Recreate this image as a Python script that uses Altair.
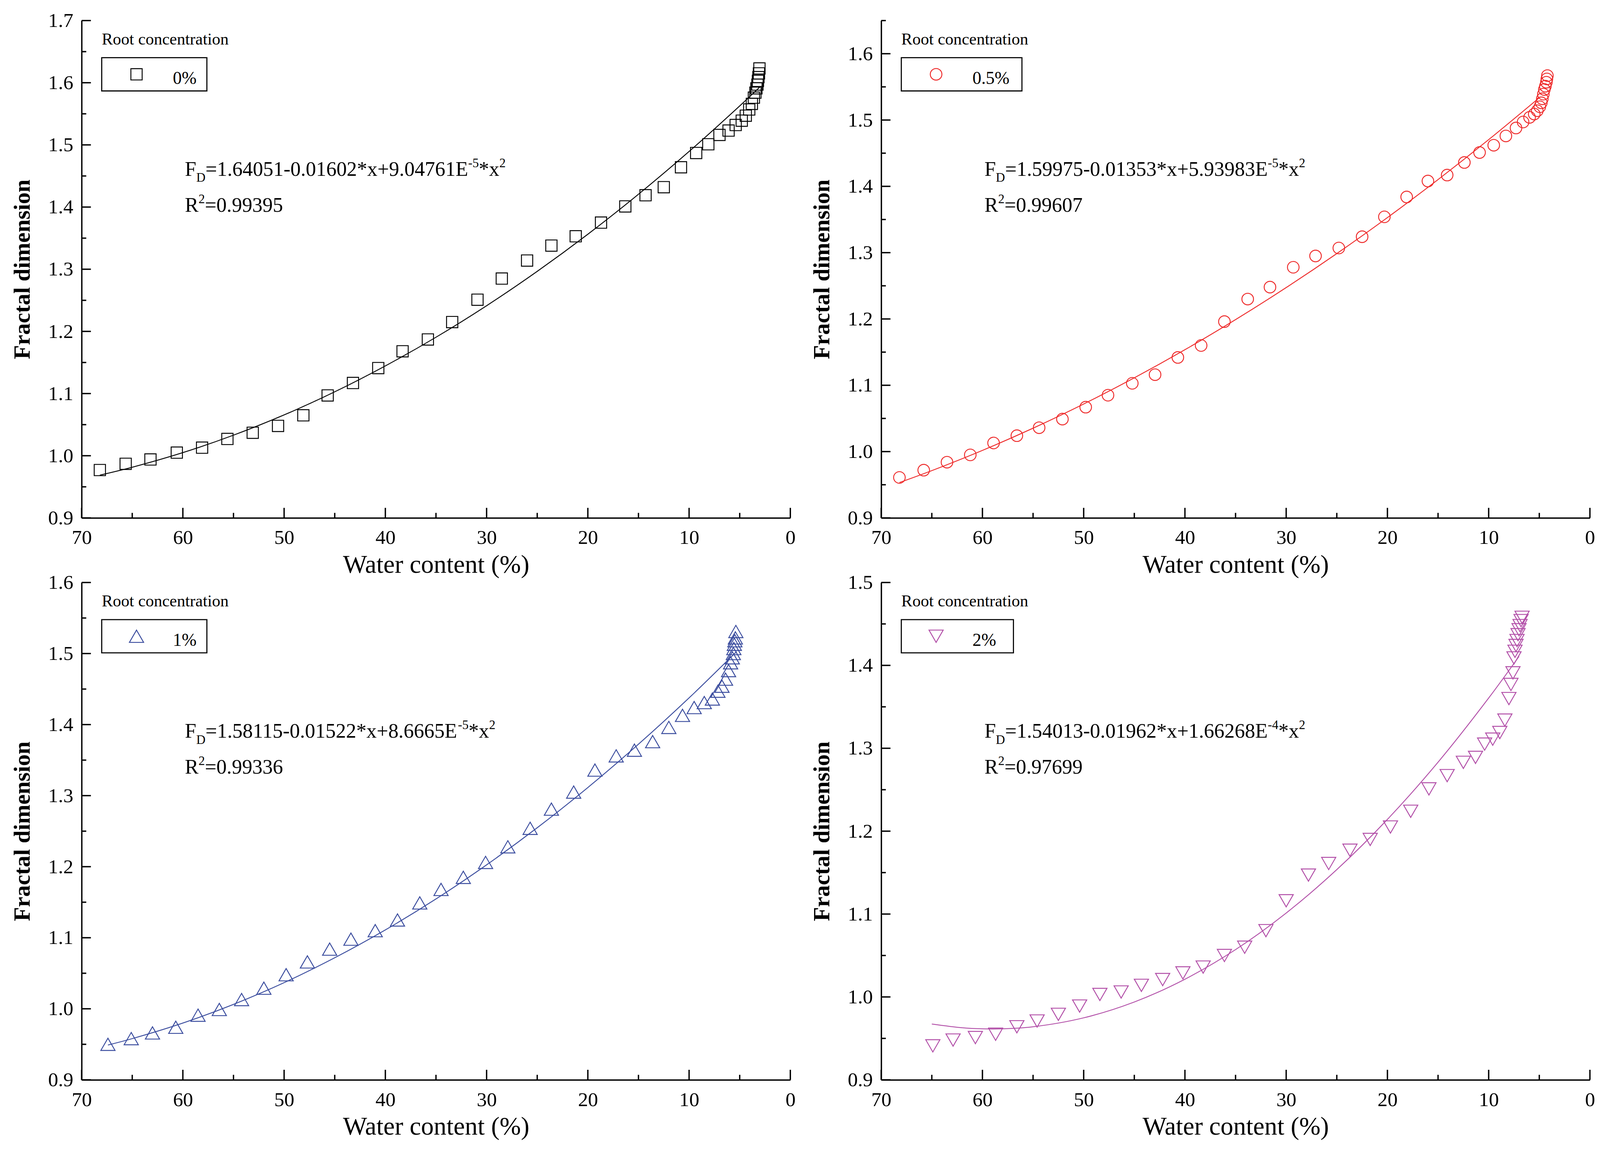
import altair as alt
import pandas as pd

FONT = "Liberation Serif"
W, H = 1833, 1286

# x axis ticks (water content, %)
X_MAJOR = [70, 60, 50, 40, 30, 20, 10, 0]
X_MINOR = [65, 55, 45, 35, 25, 15, 5]

# 0% roots
WC_0 = [68.2, 65.65, 63.2, 60.6, 58.1, 55.6, 53.1, 50.6, 48.1, 45.7, 43.2, 40.7, 38.3,
        35.8, 33.4, 30.9, 28.5, 26.0, 23.6, 21.2, 18.7, 16.3, 14.3, 12.5, 10.8, 9.3,
        8.1, 7.0, 6.1, 5.4, 4.8, 4.4, 4.06, 3.8, 3.6, 3.45, 3.35, 3.25, 3.2, 3.15, 3.1, 3.05]
FD_0 = [0.977, 0.987, 0.994, 1.005, 1.013, 1.027, 1.037, 1.048, 1.065, 1.097, 1.117, 1.141,
        1.168, 1.187, 1.215, 1.251, 1.285, 1.314, 1.338, 1.353, 1.375, 1.401, 1.419, 1.432,
        1.464, 1.487, 1.501, 1.516, 1.523, 1.532, 1.539, 1.547, 1.557, 1.566, 1.576, 1.584,
        1.591, 1.597, 1.603, 1.609, 1.615, 1.623]
FIT_X_0 = [68.2, 65, 60, 55, 50, 45, 40, 35, 30, 25, 20, 15, 10, 5, 3]
FIT_Y_0 = [0.9688, 0.9815, 1.0050, 1.0331, 1.0657, 1.1028, 1.1445, 1.1906, 1.2413, 1.2966,
           1.3563, 1.4206, 1.4894, 1.5627, 1.5933]

# 0.5% roots
WC_05 = [68.2, 65.8, 63.5, 61.2, 58.9, 56.6, 54.4, 52.1, 49.8, 47.6, 45.2, 42.95, 40.7, 38.4,
         36.1, 33.8, 31.6, 29.3, 27.1, 24.8, 22.5, 20.3, 18.1, 16.0, 14.1, 12.4, 10.9, 9.5,
         8.3, 7.3, 6.6, 5.96, 5.5, 5.2, 4.95, 4.8, 4.7, 4.6, 4.5, 4.4, 4.3, 4.25, 4.2]
FD_05 = [0.961, 0.972, 0.984, 0.995, 1.013, 1.024, 1.036, 1.049, 1.067, 1.085, 1.103, 1.116,
         1.142, 1.160, 1.196, 1.230, 1.248, 1.278, 1.295, 1.307, 1.324, 1.354, 1.384, 1.408,
         1.417, 1.436, 1.451, 1.462, 1.476, 1.488, 1.497, 1.504, 1.509, 1.514, 1.520, 1.526,
         1.532, 1.539, 1.546, 1.551, 1.557, 1.562, 1.567]
FIT_X_05 = [68.2, 65, 60, 55, 50, 45, 40, 35, 30, 25, 20, 15, 10, 5]
FIT_Y_05 = [0.9533, 0.9713, 1.0018, 1.0353, 1.0718, 1.1112, 1.1536, 1.1990, 1.2473, 1.2986,
            1.3529, 1.4102, 1.4704, 1.5336]

# 1% roots
WC_1 = [67.4, 65.1, 63.0, 60.7, 58.5, 56.4, 54.2, 52.0, 49.8, 47.7, 45.5, 43.4, 41.0, 38.8,
        36.6, 34.5, 32.3, 30.1, 27.9, 25.7, 23.6, 21.4, 19.3, 17.2, 15.4, 13.6, 12.0, 10.65,
        9.5, 8.5, 7.7, 7.15, 6.75, 6.4, 6.1, 5.9, 5.73, 5.63, 5.58, 5.53, 5.48, 5.43, 5.38]
FD_1 = [0.950, 0.958, 0.966, 0.974, 0.991, 0.999, 1.013, 1.029, 1.048, 1.066, 1.084, 1.098,
        1.110, 1.125, 1.149, 1.168, 1.185, 1.206, 1.228, 1.254, 1.281, 1.305, 1.336, 1.356,
        1.364, 1.376, 1.396, 1.413, 1.424, 1.431, 1.436, 1.447, 1.454, 1.464, 1.476, 1.487,
        1.494, 1.500, 1.507, 1.513, 1.518, 1.522, 1.531]
FIT_X_1 = [67.4, 65, 60, 55, 50, 45, 40, 35, 30, 25, 20, 15, 10, 5.3]
FIT_Y_1 = [0.9490, 0.9580, 0.9799, 1.0062, 1.0368, 1.0718, 1.1110, 1.1546, 1.2026, 1.2548,
           1.3114, 1.3724, 1.4376, 1.5029]

# 2% roots
WC_2 = [64.9, 62.9, 60.7, 58.7, 56.6, 54.6, 52.5, 50.4, 48.4, 46.3, 44.3, 42.2, 40.2, 38.2,
        36.1, 34.1, 32.0, 30.0, 27.8, 25.8, 23.7, 21.7, 19.7, 17.7, 15.9, 14.1, 12.5, 11.3,
        10.4, 9.6, 8.9, 8.4, 8.0, 7.8, 7.6, 7.5, 7.4, 7.3, 7.2, 7.1, 7.0, 6.9, 6.8, 6.7]
FD_2 = [0.941, 0.948, 0.951, 0.955, 0.964, 0.971, 0.979, 0.989, 1.003, 1.006, 1.014, 1.021,
        1.029, 1.036, 1.050, 1.060, 1.080, 1.116, 1.147, 1.161, 1.177, 1.190, 1.205, 1.224,
        1.251, 1.267, 1.283, 1.289, 1.305, 1.311, 1.319, 1.334, 1.360, 1.377, 1.391, 1.409,
        1.417, 1.424, 1.430, 1.437, 1.443, 1.448, 1.454, 1.458]
FIT_X_2 = [65, 62, 60, 58, 55, 50, 45, 40, 35, 30, 25, 20, 15, 10, 7]
FIT_Y_2 = [0.9673, 0.9628, 0.9615, 0.9615, 0.9640, 0.9748, 0.9939, 1.0214, 1.0571, 1.1012,
           1.1536, 1.2142, 1.2832, 1.3606, 1.4109]

LABELS = ["0%", "0.5%", "1%", "2%"]
COEFS = ["=1.64051-0.01602*x+9.04761E", "=1.59975-0.01353*x+5.93983E",
         "=1.58115-0.01522*x+8.6665E", "=1.54013-0.01962*x+1.66268E"]
EXPS = ["-5", "-5", "-5", "-4"]
R2S = ["=0.99395", "=0.99607", "=0.99336", "=0.97699"]
Y_MAX = [1.7, 1.65, 1.6, 1.5]
Y_MAJOR = [
    [0.9, 1.0, 1.1, 1.2, 1.3, 1.4, 1.5, 1.6, 1.7],
    [0.9, 1.0, 1.1, 1.2, 1.3, 1.4, 1.5, 1.6],
    [0.9, 1.0, 1.1, 1.2, 1.3, 1.4, 1.5, 1.6],
    [0.9, 1.0, 1.1, 1.2, 1.3, 1.4, 1.5],
]
Y_MINOR = [
    [0.95, 1.05, 1.15, 1.25, 1.35, 1.45, 1.55, 1.65],
    [0.95, 1.05, 1.15, 1.25, 1.35, 1.45, 1.55, 1.65],
    [0.95, 1.05, 1.15, 1.25, 1.35, 1.45, 1.55],
    [0.95, 1.05, 1.15, 1.25, 1.35, 1.45],
]

COLORS = ["#000000", "#EE2A2A", "#3A4C9E", "#B24FA8"]
SHAPES = ["square", "circle", "triangle-up", "triangle-down"]
SIZES = [850, 900, 1350, 1350]
BOX_RIGHT = [324, 364, 324, 342]

# Times / Liberation Serif advance widths (em) for the equation pieces
GLYPH_W = {".": 0.25, "=": 0.564, "-": 0.333, "*": 0.5, "x": 0.5, "+": 0.564,
           "E": 0.611, "F": 0.556, "D": 0.722, "R": 0.667}
EQ = 53
SUP = 33


def text_w(s, size):
    return sum(GLYPH_W.get(c, 0.5) for c in s) * size


one = pd.DataFrame({"a": [0]})


def label(text, x, y, size, color="black", weight="normal"):
    return alt.Chart(one).mark_text(
        align="left", baseline="alphabetic", font=FONT, fontSize=size,
        color=color, fontWeight=weight
    ).encode(x=alt.value(x), y=alt.value(y), text=alt.value(text))


def panel(i, wc, fd, fx, fy):
    color = COLORS[i]
    xs = alt.Scale(domain=[0, 70], reverse=True, nice=False, zero=False)
    ys = alt.Scale(domain=[0.9, Y_MAX[i]], nice=False, zero=False)
    xax = alt.Axis(values=X_MAJOR, format="d", title="Water content (%)", ticks=False,
                   tickSize=0, grid=False, domainWidth=3.5, domainColor="black",
                   labelFont=FONT, labelFontSize=52, labelColor="black", labelPadding=26,
                   labelFlush=False, labelOverlap=False, titleFont=FONT, titleFontSize=66,
                   titleFontWeight="normal", titleColor="black", titlePadding=12)
    yax = alt.Axis(values=Y_MAJOR[i], format=".1f", title="Fractal dimension", ticks=False,
                   tickSize=0, grid=False, domainWidth=3.5, domainColor="black",
                   labelFont=FONT, labelFontSize=52, labelColor="black", labelPadding=22,
                   labelFlush=False, labelOverlap=False, titleFont=FONT, titleFontSize=60,
                   titleFontWeight="bold", titleColor="black", titlePadding=35)

    def X(f):
        return alt.X(f + ":Q", scale=xs, axis=xax)

    def Y(f):
        return alt.Y(f + ":Q", scale=ys, axis=yax)

    fit = alt.Chart(pd.DataFrame({"wc": fx, "fd": fy})).mark_line(
        color=color, strokeWidth=2.3, interpolate="catmull-rom"
    ).encode(x=X("wc"), y=Y("fd"))

    dots = alt.Chart(pd.DataFrame({"wc": wc, "fd": fd})).mark_point(
        shape=SHAPES[i], filled=False, size=SIZES[i], strokeWidth=2.4, color=color, opacity=1
    ).encode(x=X("wc"), y=Y("fd"))

    xt_maj = alt.Chart(pd.DataFrame({"v": X_MAJOR})).mark_rule(color="black", strokeWidth=3.5).encode(
        x=X("v"), y=alt.value(H), y2=alt.value(H - 26))
    xt_min = alt.Chart(pd.DataFrame({"v": X_MINOR})).mark_rule(color="black", strokeWidth=3.5).encode(
        x=X("v"), y=alt.value(H), y2=alt.value(H - 13))
    yt_maj = alt.Chart(pd.DataFrame({"v": Y_MAJOR[i]})).mark_rule(color="black", strokeWidth=3.5).encode(
        y=Y("v"), x=alt.value(0), x2=alt.value(24))
    yt_min = alt.Chart(pd.DataFrame({"v": Y_MINOR[i]})).mark_rule(color="black", strokeWidth=3.5).encode(
        y=Y("v"), x=alt.value(0), x2=alt.value(12))

    # legend block
    box = alt.Chart(one).mark_rect(fill="white", stroke="black", strokeWidth=2.8).encode(
        x=alt.value(52), x2=alt.value(BOX_RIGHT[i]), y=alt.value(96), y2=alt.value(182))
    sym = alt.Chart(one).mark_point(
        shape=SHAPES[i], filled=False, size=SIZES[i], strokeWidth=2.4, color=color, opacity=1
    ).encode(x=alt.value(142), y=alt.value(139))
    head = label("Root concentration", 52, 62, 43)
    leg = label(LABELS[i], 236, 164, 46)

    # fitted equation with sub/superscripts
    x0, b0, b1 = 267, 401, 494
    pieces = [label("F", x0, b0, EQ)]
    xc = x0 + text_w("F", EQ)
    pieces.append(label("D", xc, b0 + 16, SUP))
    xc += text_w("D", SUP)
    pieces.append(label(COEFS[i], xc, b0, EQ))
    xc += text_w(COEFS[i], EQ)
    pieces.append(label(EXPS[i], xc, b0 - 22, SUP))
    xc += text_w(EXPS[i], SUP)
    pieces.append(label("*x", xc, b0, EQ))
    xc += text_w("*x", EQ)
    pieces.append(label("2", xc, b0 - 22, SUP))
    pieces.append(label("R", x0, b1, EQ))
    xr = x0 + text_w("R", EQ)
    pieces.append(label("2", xr, b1 - 22, SUP))
    pieces.append(label(R2S[i], xr + text_w("2", SUP), b1, EQ))

    return alt.layer(fit, dots, xt_maj, xt_min, yt_maj, yt_min, box, sym, head, leg,
                     *pieces).properties(width=W, height=H)


p0 = panel(0, WC_0, FD_0, FIT_X_0, FIT_Y_0)
p1 = panel(1, WC_05, FD_05, FIT_X_05, FIT_Y_05)
p2 = panel(2, WC_1, FD_1, FIT_X_1, FIT_Y_1)
p3 = panel(3, WC_2, FD_2, FIT_X_2, FIT_Y_2)

chart = alt.concat(
    p0, p1, p2, p3, columns=2, spacing={"row": 167, "column": 235}, bounds="flush"
).properties(
    padding={"left": 20, "top": 4, "right": 5, "bottom": 5},
    background="white",
).configure_view(strokeWidth=0)

chart.save("out.html", embed_options={"renderer": "svg", "actions": False})
